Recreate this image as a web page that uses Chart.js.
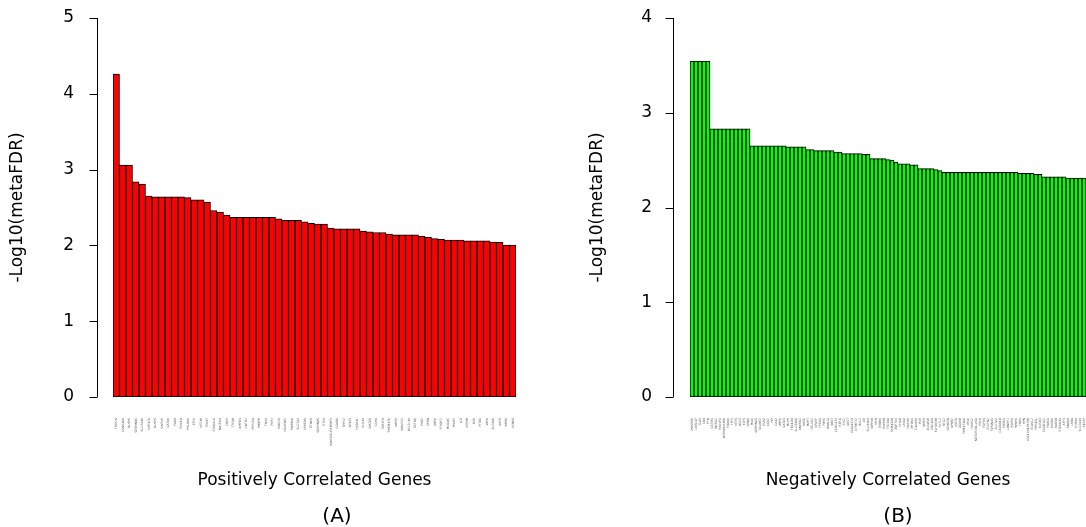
<!DOCTYPE html>
<html>
<head>
<meta charset="utf-8">
<script src="https://cdn.jsdelivr.net/npm/chart.js@4.4.1/dist/chart.umd.min.js"></script>
<style>
  html, body { margin: 0; padding: 0; background: #fff; }
  body { width: 1086px; height: 527px; position: relative; overflow: hidden; font-family: 'DejaVu Sans', sans-serif; }
  .panel { position: absolute; top: 0; }
  .caption { position: absolute; top: 503px; width: 100px; font-size: 20px; line-height: 24px; text-align: center; color: #000; }
</style>
</head>
<body>
<div class="panel" style="left:0"><canvas id="posChart" width="545" height="527"></canvas></div>
<div class="panel" style="left:560px"><canvas id="negChart" width="556" height="527"></canvas></div>
<div class="caption" style="left:287px">(A)</div>
<div class="caption" style="left:848px">(B)</div>
<script>
// (A) positively correlated genes
const posGenes = [
  'TFAP2A', 'CSNK1A1', 'DUSP6', 'SERPINB1', 'SLC7A11', 'DPP125', 'DUSP4', 'GAPDH', 'GATA6', 'PAX9',
  'PDC1D', 'PHLDA1', 'ETF1', 'KRT18', 'TRIM7', 'ST6GAL1', 'NDUFA9', 'CBR3', 'TTC9B', 'AMPD3',
  'CNTD2', 'PPP2CA', 'RBBP8', 'TNS4', 'PKP2', 'MOK24', 'C6orf182', 'FAM81A', 'SLC2A3', 'SPRED1',
  'ETNK1', 'SERPINB5', 'ETV5', 'ANKHD1-EIF4EBP3', 'CCND1', 'SPRY2', 'AP1S3', 'HSPA4L', 'KLK10', 'SPATA5',
  'GCH1', 'TNFSF9', 'TMEM171', 'INPP1', 'NDUFV2', 'BCL2L14', 'RCTD1', 'PHB2', 'SPRN', 'GBP1',
  'YTHDF2', 'MOCOS', 'PRIM2', 'LYZ', 'ATP9B', 'KDR', 'PITX1', 'VAPA', 'SLC5A6', 'ARF6',
  'NPM1', 'KCNK1'
];
const posValues = [
  4.26, 3.06, 3.06, 2.84, 2.81, 2.65, 2.64, 2.64, 2.64, 2.64,
  2.64, 2.63, 2.60, 2.60, 2.57, 2.46, 2.44, 2.40, 2.37, 2.37,
  2.37, 2.37, 2.37, 2.37, 2.37, 2.35, 2.33, 2.33, 2.33, 2.31,
  2.29, 2.28, 2.28, 2.23, 2.22, 2.22, 2.22, 2.22, 2.19, 2.18,
  2.17, 2.17, 2.15, 2.14, 2.14, 2.14, 2.14, 2.12, 2.11, 2.09,
  2.08, 2.07, 2.07, 2.07, 2.06, 2.06, 2.06, 2.06, 2.045, 2.04,
  2.005, 2.005
];
const posYMax = 5;

// (B) negatively correlated genes
const negGenes = [
  'MAGEE1', 'LRRC17', 'TLX3', 'CD9', 'PTN', 'GSTM3', 'NDRG2', 'RASSF1', 'NCRNA00185', 'FOXA1',
  'TFF3', 'KRT5', 'DSC3', 'ELF5', 'CNN1', 'MSI1', 'SERPINA3', 'SCUBE2', 'ESR1', 'AGR2',
  'PIP', 'CA12', 'XBP1', 'GATA3', 'MLPH', 'TBC1D9', 'SLC39A6', 'ANKRA2', 'NAT1', 'MAPT',
  'CELSR2', 'SPDEF', 'TPRG1', 'FBP1', 'DNALI1', 'ABAT', 'CCDC170', 'RERG', 'STC2', 'IL6ST',
  'KIAA1324', 'CYP4F22', 'BCL2', 'AR', 'SLC44A4', 'INPP4B', 'MYB', 'ERBB4', 'KDM4B', 'TTC39A',
  'FAM134B', 'ZNF703', 'CHAD', 'LRIG1', 'DACH1', 'MYO5C', 'C1orf64', 'PGR', 'NME5', 'ACADSB',
  'CDC14A', 'KLHDC8B', 'SYTL2', 'BTG2', 'SEMA3B', 'APBB2', 'SIDT1', 'ZG16B', 'FAM171A1', 'IRS1',
  'DHRS2', 'NOTCH2NL-AS1', 'PRLR', 'FGFR4', 'CLSTN2', 'TSPAN13', 'SLC7A2', 'CACNA1D', 'PDZK1', 'LONRF2',
  'ESRP1', 'WWP1', 'TOX3', 'HPN', 'LOC100128288', 'ELOVL2', 'PRR15L', 'SUSD3', 'SCGB2A2', 'FOXC1',
  'GREB1', 'RAB3B', 'STARD10', 'AFF3', 'ANXA9', 'LRBA', 'CYB5A', 'SLC2A10', 'S100P'
];
const negValues = [
  3.545, 3.545, 3.545, 3.545, 3.545, 2.83, 2.83, 2.83, 2.83, 2.83,
  2.83, 2.83, 2.83, 2.83, 2.83, 2.65, 2.65, 2.65, 2.65, 2.65,
  2.65, 2.65, 2.65, 2.65, 2.64, 2.64, 2.64, 2.64, 2.64, 2.61,
  2.61, 2.60, 2.60, 2.60, 2.60, 2.60, 2.585, 2.585, 2.57, 2.57,
  2.57, 2.57, 2.57, 2.56, 2.56, 2.515, 2.515, 2.515, 2.515, 2.505,
  2.50, 2.48, 2.46, 2.46, 2.46, 2.45, 2.45, 2.41, 2.41, 2.41,
  2.41, 2.40, 2.39, 2.37, 2.37, 2.37, 2.37, 2.37, 2.37, 2.37,
  2.37, 2.37, 2.37, 2.37, 2.37, 2.37, 2.37, 2.37, 2.37, 2.37,
  2.37, 2.37, 2.36, 2.36, 2.36, 2.36, 2.35, 2.35, 2.325, 2.325,
  2.325, 2.325, 2.325, 2.325, 2.31, 2.31, 2.31, 2.31, 2.31
];
const negYMax = 4;

Chart.defaults.font.family = "'DejaVu Sans', sans-serif";
Chart.defaults.color = '#000';

// R-style y axis: line and ticks sit a little left of the bars
const offsetAxis = {
  id: 'offsetAxis',
  afterDraw(chart, args, opts) {
    const { ctx, chartArea, scales: { y } } = chart;
    const x = Math.round(chartArea.left - opts.gap) + 0.5;
    ctx.save();
    ctx.strokeStyle = '#000';
    ctx.lineWidth = 1;
    ctx.beginPath();
    ctx.moveTo(x, y.getPixelForValue(y.min));
    ctx.lineTo(x, y.getPixelForValue(y.max));
    y.ticks.forEach(t => {
      const py = Math.round(y.getPixelForValue(t.value)) + 0.5;
      ctx.moveTo(x, py);
      ctx.lineTo(x - 8, py);
    });
    ctx.stroke();
    ctx.restore();
  }
};

function makeChart(id, genes, values, color, o) {
  return new Chart(document.getElementById(id), {
    type: 'bar',
    data: {
      labels: genes,
      datasets: [{
        data: values,
        backgroundColor: color,
        borderColor: '#000',
        borderWidth: 1,
        borderSkipped: false,
        categoryPercentage: 1,
        barPercentage: 1
      }]
    },
    options: {
      responsive: false,
      animation: false,
      layout: { padding: { top: 18, right: o.right, bottom: 0, left: 0 } },
      plugins: {
        legend: { display: false },
        tooltip: { enabled: false },
        offsetAxis: { gap: o.gap }
      },
      scales: {
        x: {
          // hidden tick marks only push the gene labels down
          grid: { display: false, drawTicks: true, tickLength: 21 },
          border: { display: false },
          ticks: {
            autoSkip: false,
            maxRotation: 90,
            minRotation: 90,
            padding: 0,
            color: '#555',
            font: { size: 3 }
          },
          title: {
            display: true,
            text: o.xTitle,
            font: { size: 17 },
            padding: { top: 0, bottom: 36 }
          },
          afterFit: s => { s.height = 130; }
        },
        y: {
          min: 0,
          max: o.yMax,
          grid: { display: false, drawTicks: true, tickLength: o.tickPad },
          border: { display: false },
          ticks: { stepSize: 1, padding: 0, font: { size: 17 } },
          title: {
            display: true,
            text: '-Log10(metaFDR)',
            font: { size: 17 },
            padding: { top: o.titlePad, bottom: 0 }
          },
          afterFit: s => { s.width = o.yWidth; }
        }
      }
    },
    plugins: [offsetAxis]
  });
}

makeChart('posChart', posGenes, posValues, '#ff0000', {
  xTitle: 'Positively Correlated Genes', yMax: posYMax,
  yWidth: 113, gap: 16, tickPad: 39, titlePad: 7, right: 29
});
makeChart('negChart', negGenes, negValues, '#00ff00', {
  xTitle: 'Negatively Correlated Genes', yMax: negYMax,
  yWidth: 130, gap: 17, tickPad: 38, titlePad: 27, right: 30
});
</script>
</body>
</html>
